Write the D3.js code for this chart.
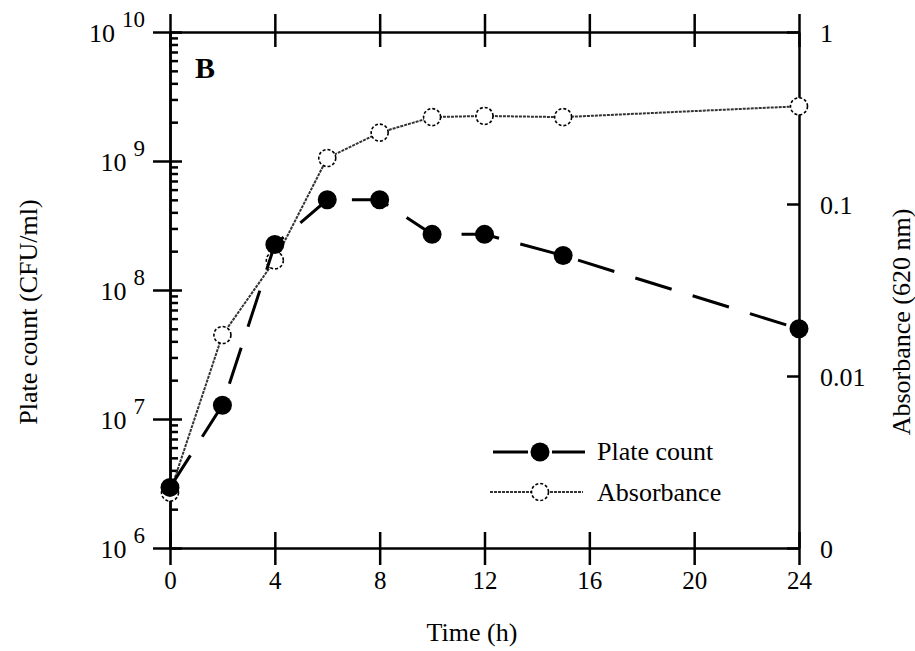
<!DOCTYPE html>
<html lang="en">
<head>
<meta charset="UTF-8">
<title>Plate count and absorbance</title>
<style>
    body { margin: 0; background: #fff; }
    svg { font-family: "Liberation Serif", "Times New Roman", serif; }
    .axis path, .axis line { stroke: #000; stroke-width: 2.5; fill: none; }
</style>
</head>
<body>
<svg width="915" height="651"></svg>
<script src="https://d3js.org/d3.v7.min.js"></script>
<script>
// data
const times = [0, 2, 4, 6, 8, 10, 12, 15, 24];
const plateCount = [2.95e6, 1.28e7, 2.25e8, 5.0e8, 5.0e8, 2.7e8, 2.7e8, 1.85e8, 5.0e7];
const absorbance = [0.0021, 0.0173, 0.047, 0.185, 0.26, 0.32, 0.325, 0.32, 0.37];
const xTicks = [0, 4, 8, 12, 16, 20, 24];
const leftTicks = [1e6, 1e7, 1e8, 1e9, 1e10];
const rightTicks = [0.001, 0.01, 0.1, 1];
const rightLabels = ["0", "0.01", "0.1", "1"];

const serif = "'Liberation Serif', 'Times New Roman', serif";
const plotL = 170, plotR = 799, plotT = 32, plotB = 548;

const svg = d3.select("svg");

const x = d3.scaleLinear().domain([0, 24]).range([plotL, plotR]);
const yL = d3.scaleLog().domain([1e6, 1e10]).range([plotB, plotT]);
const yR = d3.scaleLog().domain([0.001, 1]).range([plotB, plotT]);

// bottom axis
const xb = svg.append("g").attr("class", "axis")
    .attr("transform", `translate(0,${plotB})`)
    .call(d3.axisBottom(x).tickValues(xTicks).tickSize(16).tickPadding(7).tickSizeOuter(0));
xb.attr("font-family", serif).attr("font-size", 25);
xb.selectAll(".tick line").attr("y1", -16).attr("y2", 17);

// top axis, no labels
const xt = svg.append("g").attr("class", "axis")
    .attr("transform", `translate(0,${plotT})`)
    .call(d3.axisTop(x).tickValues(xTicks).tickSize(16).tickFormat("").tickSizeOuter(0));
xt.selectAll(".tick line").attr("y1", -18).attr("y2", 15);

// left axis: minor ticks inside
const minors = [];
for (let e = 6; e < 10; e++) {
    for (let m = 2; m <= 9; m++) minors.push(m * Math.pow(10, e));
}
svg.append("g").attr("class", "axis")
    .attr("transform", `translate(${plotL},0)`)
    .call(d3.axisRight(yL).tickValues(minors).tickSize(8).tickFormat("").tickSizeOuter(0));

const ya = svg.append("g").attr("class", "axis")
    .attr("transform", `translate(${plotL},0)`)
    .call(d3.axisLeft(yL).tickValues(leftTicks).tickSize(17).tickFormat("").tickSizeOuter(0));
ya.attr("font-family", serif);
ya.selectAll(".tick line").attr("x2", -17).attr("x1", 12);
ya.selectAll(".tick").append("text")
    .attr("x", -25)
    .attr("y", 9)
    .attr("fill", "#000")
    .attr("text-anchor", "end")
    .attr("font-size", 26)
    .each(function (d) {
        const t = d3.select(this);
        t.append("tspan").text("10");
        t.append("tspan").attr("dx", 7).attr("dy", -15)
            .attr("font-size", 23)
            .text(Math.round(Math.log10(d)));
    });

// right axis, ticks inward
const yr = svg.append("g").attr("class", "axis")
    .attr("transform", `translate(${plotR},0)`)
    .call(d3.axisRight(yR).tickValues(rightTicks).tickSize(-12).tickPadding(21)
        .tickFormat((d, i) => rightLabels[i]).tickSizeOuter(0));
yr.attr("font-family", serif).attr("font-size", 26);
yr.selectAll(".tick text").attr("dy", "0.36em");

// axis titles
svg.append("text")
    .attr("transform", "translate(37,312) rotate(-90)")
    .attr("text-anchor", "middle")
    .style("font-size", "26px")
    .text("Plate count (CFU/ml)");

svg.append("text")
    .attr("transform", "translate(910,322) rotate(-90)")
    .attr("text-anchor", "middle")
    .style("font-size", "26px")
    .text("Absorbance (620 nm)");

svg.append("text")
    .attr("x", 472)
    .attr("y", 641)
    .attr("text-anchor", "middle")
    .style("font-size", "26px")
    .text("Time (h)");

svg.append("text")
    .attr("x", 195)
    .attr("y", 78)
    .style("font-size", "30px")
    .style("font-weight", "bold")
    .text("B");

// absorbance series
const absLine = d3.line().x((d, i) => x(times[i])).y(d => yR(d));
svg.append("path")
    .datum(absorbance)
    .attr("d", absLine)
    .attr("fill", "none")
    .attr("stroke", "#333")
    .attr("stroke-width", 2)
    .attr("stroke-dasharray", "3,1");

svg.selectAll(".abs")
    .data(absorbance)
    .enter().append("circle")
    .attr("class", "abs")
    .attr("cx", (d, i) => x(times[i]))
    .attr("cy", d => yR(d))
    .attr("r", 8.5)
    .attr("fill", "#fff")
    .attr("stroke", "#000")
    .attr("stroke-width", 1.6)
    .attr("stroke-dasharray", "3,2");

// plate count series
const pcLine = d3.line().x((d, i) => x(times[i])).y(d => yL(d));
svg.append("path")
    .datum(plateCount)
    .attr("d", pcLine)
    .attr("fill", "none")
    .attr("stroke", "#000")
    .attr("stroke-width", 3)
    .attr("stroke-dasharray", "38,22");

svg.selectAll(".pc")
    .data(plateCount)
    .enter().append("circle")
    .attr("class", "pc")
    .attr("cx", (d, i) => x(times[i]))
    .attr("cy", d => yL(d))
    .attr("r", 9.5)
    .attr("fill", "#000");

// legend
const lg = svg.append("g");
lg.append("line").attr("x1", 493).attr("x2", 528).attr("y1", 452).attr("y2", 452)
    .attr("stroke", "#000").attr("stroke-width", 3);
lg.append("line").attr("x1", 552).attr("x2", 585).attr("y1", 452).attr("y2", 452)
    .attr("stroke", "#000").attr("stroke-width", 3);
lg.append("circle").attr("cx", 540).attr("cy", 452).attr("r", 9.5).attr("fill", "#000");
lg.append("text").attr("x", 597).attr("y", 460).style("font-size", "26px").text("Plate count");

lg.append("line").attr("x1", 490).attr("x2", 583).attr("y1", 492).attr("y2", 492)
    .attr("stroke", "#333").attr("stroke-width", 2).attr("stroke-dasharray", "3,1");
lg.append("circle").attr("cx", 540).attr("cy", 492).attr("r", 8.5)
    .attr("fill", "#fff").attr("stroke", "#000").attr("stroke-width", 1.6)
    .attr("stroke-dasharray", "3,2");
lg.append("text").attr("x", 597).attr("y", 501).style("font-size", "26px").text("Absorbance");
</script>
</body>
</html>
